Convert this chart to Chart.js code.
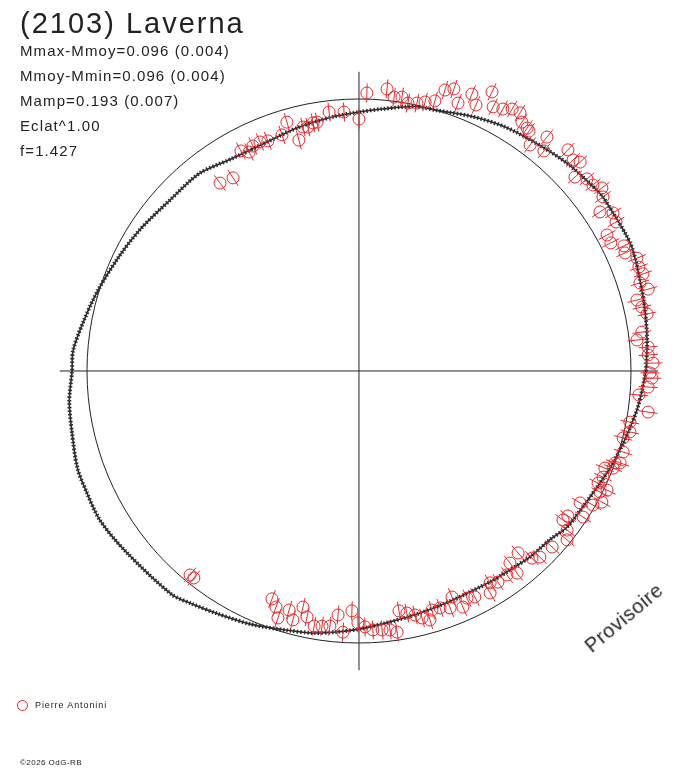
<!DOCTYPE html>
<html>
<head>
<meta charset="utf-8">
<title>(2103) Laverna</title>
<script src="https://cdn.jsdelivr.net/npm/chart.js@4.4.0/dist/chart.umd.min.js"></script>
<style>
  body { margin: 0; background: #fff; }
  #wrap { position: relative; width: 688px; height: 768px; overflow: hidden; font-family: "Liberation Sans", Arial, sans-serif; color: #222; }
  #plot { display: block; position: absolute; left: 0; top: 0; }
  .txt { position: absolute; white-space: nowrap; }
  #title { left: 20px; top: 9px; font-size: 29px; line-height: 29px; letter-spacing: 2px; }
  #stats { left: 20px; top: 38px; font-size: 15px; line-height: 25px; letter-spacing: 1.1px; }
  #stamp { left: 624px; top: 618px; font-size: 20px; letter-spacing: 0.6px; transform: translate(-50%, -50%) rotate(-40deg); }
  #legend { left: 17px; top: 700px; font-size: 9px; line-height: 10px; letter-spacing: 0.9px; }
  #legend span.mk { display: inline-block; width: 9px; height: 9px; border: 1px solid #e8282d; border-radius: 50%; vertical-align: middle; margin-right: 7px; }
  #copy { left: 20px; top: 758px; font-size: 8px; line-height: 9px; letter-spacing: 0.45px; }
</style>
</head>
<body>
<div id="wrap">
  <canvas id="plot" width="688" height="768"></canvas>
  <div class="txt" id="title">(2103) Laverna</div>
  <div class="txt" id="stats"></div>
  <div class="txt" id="stamp">Provisoire</div>
  <div class="txt" id="legend"><span class="mk"></span>Pierre Antonini</div>
  <div class="txt" id="copy">©2026 OdG-RB</div>
</div>
<script>
// text block values
var statLines = ["Mmax-Mmoy=0.096 (0.004)", "Mmoy-Mmin=0.096 (0.004)", "Mamp=0.193 (0.007)", "Eclat^1.00", "f=1.427"];

// fitted curve, phase (deg) and relative flux radius
var curvePhase = [0,6,12,18,24,27,32,36,41,45,51,59,66,73,78,85,90,96,104,112,121,129,138,147,155,163,170,176,180,186,192,199,204,210,218,230,234,240,247,255,260,265,270,276,284,292,302,307,313,319,323,329,335,340,345,348,352,356];
var curveRadius = [1.055,1.065,1.075,1.086,1.101,1.102,1.100,1.101,1.089,1.081,1.064,1.046,1.024,1.001,0.994,0.967,0.952,0.939,0.923,0.907,0.910,0.934,0.937,0.958,0.979,1.005,1.030,1.054,1.055,1.071,1.079,1.095,1.096,1.099,1.084,1.072,1.055,1.032,1.012,0.988,0.978,0.963,0.949,0.932,0.918,0.910,0.913,0.918,0.929,0.938,0.956,0.963,0.977,0.993,1.008,1.017,1.032,1.043];

// observations (polar plot coordinates, unit = mean flux)
var obsX = [-0.511,-0.463,-0.434,-0.404,-0.390,-0.364,-0.335,-0.283,-0.265,-0.221,-0.206,-0.188,-0.169,-0.154,-0.110,-0.055,0.000,0.029,0.103,0.129,0.158,0.180,0.213,0.243,0.279,0.316,0.349,0.364,0.415,0.430,0.489,0.493,0.529,0.563,0.592,0.599,0.618,0.625,0.629,0.691,0.680,0.768,0.787,0.813,0.794,0.838,0.860,0.893,0.897,0.886,0.934,0.945,0.912,0.926,0.974,0.978,1.022,1.029,
  1.044,1.033,1.063,1.022,1.040,1.059,1.040,1.022,1.063,1.063,1.081,1.070,1.077,1.063,1.029,1.063,0.996,0.996,0.971,0.971,0.941,0.904,
  0.960,0.934,0.897,0.879,0.912,0.886,0.893,0.860,0.813,0.824,0.768,0.750,0.765,0.765,0.710,0.665,0.636,0.585,0.555,0.581,0.544,0.511,0.482,0.482,0.426,
  -0.621,-0.607,-0.320,-0.305,-0.298,-0.257,-0.243,-0.206,-0.191,-0.165,-0.136,-0.107,-0.077,-0.059,-0.026,-0.004,0.022,0.051,0.085,0.114,0.140,0.147,0.176,0.206,0.232,0.261,0.268,0.298,0.335,0.342,0.382,0.397];
var obsY = [0.691,0.710,0.809,0.805,0.827,0.842,0.846,0.868,0.915,0.849,0.897,0.897,0.912,0.915,0.952,0.952,0.926,1.022,1.037,1.007,1.007,0.985,0.985,0.989,0.993,1.033,1.037,0.985,1.018,0.978,1.026,0.971,0.963,0.963,0.949,0.915,0.893,0.882,0.831,0.860,0.809,0.813,0.776,0.768,0.713,0.706,0.684,0.673,0.640,0.585,0.581,0.548,0.500,0.471,0.460,0.434,0.415,0.382,
  0.357,0.324,0.301,0.261,0.235,0.210,0.143,0.114,0.088,0.059,0.029,-0.007,-0.026,-0.059,-0.088,-0.151,-0.188,-0.224,-0.246,-0.298,-0.338,-0.357,
  -0.338,-0.357,-0.390,-0.412,-0.438,-0.445,-0.482,-0.493,-0.485,-0.537,-0.533,-0.548,-0.585,-0.621,-0.647,-0.684,-0.688,-0.669,-0.706,-0.743,-0.750,-0.776,-0.779,-0.816,-0.831,
  -0.750,-0.761,-0.838,-0.868,-0.908,-0.879,-0.915,-0.868,-0.904,-0.938,-0.938,-0.938,-0.897,-0.960,-0.882,-0.926,-0.941,-0.952,-0.952,-0.952,-0.960,-0.882,-0.890,-0.897,-0.908,-0.915,-0.879,-0.871,-0.871,-0.831,-0.868,-0.835];
var obsErr = 0.035;

var refRadius = 1;
var axisLen = 1.1;

document.getElementById("stats").innerHTML = statLines.join("<br>");

var curvePts = [];
for (var i = 0; i <= curvePhase.length; i++) {
  var k = i % curvePhase.length;
  var a = curvePhase[k] * Math.PI / 180;
  curvePts.push({ x: curveRadius[k] * Math.cos(a), y: curveRadius[k] * Math.sin(a) });
}
var obsPts = obsX.map(function (x, i) { return { x: x, y: obsY[i] }; });

var red = "#e8282d";
var ink = "#222";

// reference circle and cross axes under the data
var framePlugin = {
  id: "frame",
  beforeDatasetsDraw: function (chart) {
    var ctx = chart.ctx, sx = chart.scales.x, sy = chart.scales.y;
    var cx = sx.getPixelForValue(0), cy = sy.getPixelForValue(0);
    ctx.save();
    ctx.strokeStyle = ink;
    ctx.lineWidth = 1;
    ctx.beginPath();
    ctx.moveTo(sx.getPixelForValue(-axisLen), cy);
    ctx.lineTo(sx.getPixelForValue(axisLen), cy);
    ctx.moveTo(cx, sy.getPixelForValue(axisLen));
    ctx.lineTo(cx, sy.getPixelForValue(-axisLen));
    ctx.stroke();
    ctx.beginPath();
    ctx.arc(cx, cy, sx.getPixelForValue(refRadius) - cx, 0, Math.PI * 2);
    ctx.stroke();
    ctx.restore();
  }
};

// radial error bars through each observation
var errPlugin = {
  id: "errbars",
  afterDatasetsDraw: function (chart) {
    var ctx = chart.ctx, sx = chart.scales.x, sy = chart.scales.y;
    ctx.save();
    ctx.strokeStyle = red;
    ctx.lineWidth = 1;
    ctx.beginPath();
    obsPts.forEach(function (p) {
      var r = Math.sqrt(p.x * p.x + p.y * p.y);
      var ux = p.x / r, uy = p.y / r;
      ctx.moveTo(sx.getPixelForValue(p.x - ux * obsErr), sy.getPixelForValue(p.y - uy * obsErr));
      ctx.lineTo(sx.getPixelForValue(p.x + ux * obsErr), sy.getPixelForValue(p.y + uy * obsErr));
    });
    ctx.stroke();
    ctx.restore();
  }
};

var c = document.getElementById("plot").getContext("2d");
new Chart(c, {
  type: "scatter",
  data: {
    datasets: [
      {
        label: "Pierre Antonini",
        data: obsPts,
        pointStyle: "circle",
        pointRadius: 6,
        pointBorderWidth: 1,
        borderColor: red,
        backgroundColor: "rgba(0,0,0,0)"
      },
      {
        label: "fit texture",
        data: curvePts,
        showLine: true,
        pointRadius: 0,
        borderColor: "#2e2e2e",
        borderWidth: 4,
        borderDash: [1.5, 2],
        tension: 0.3
      },
      {
        label: "fit",
        data: curvePts,
        showLine: true,
        pointRadius: 0,
        borderColor: "#2a2a2a",
        borderWidth: 1.6,
        tension: 0.3
      }
    ]
  },
  options: {
    responsive: false,
    animation: false,
    layout: { padding: 0, autoPadding: false },
    plugins: { legend: { display: false }, tooltip: { enabled: false }, title: { display: false } },
    scales: {
      x: { type: "linear", display: false, min: -1.31985, max: 1.20956 },
      y: { type: "linear", display: false, min: -1.45956, max: 1.36397 }
    }
  },
  plugins: [framePlugin, errPlugin]
});
</script>
</body>
</html>
